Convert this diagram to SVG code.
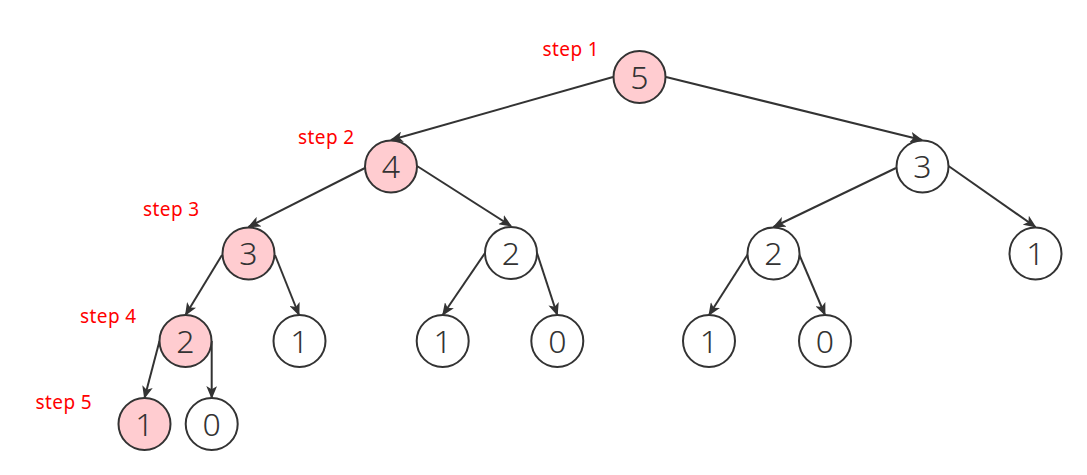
<svg xmlns="http://www.w3.org/2000/svg" width="1087" height="475" viewBox="0 0 1087 475">
<style>
.n circle{fill:#fff;stroke:#333;stroke-width:2}
.n.p circle{fill:#ffccd0}
.n text{font-family:"Noto Sans","Open Sans",sans-serif;font-size:32px;font-weight:300;fill:#333;text-anchor:middle}
.e line{stroke:#333;stroke-width:2;marker-end:url(#ah)}
.s{font-family:"Noto Sans","Open Sans",sans-serif;font-size:19px;letter-spacing:0.4px;fill:#ff0000}
</style>
<defs>
<marker id="ah" viewBox="0 0 12 10" refX="11" refY="5" markerWidth="6.5" markerHeight="5.4" orient="auto" markerUnits="strokeWidth">
<path d="M0,0 L12,5 L0,10 L3,5 Z" fill="#333"/>
</marker>
</defs>
<rect width="1087" height="475" fill="#fff"/>
<g id="connectors" class="e">
<line x1="613" y1="77" x2="391" y2="140"/>
<line x1="666" y1="77" x2="922" y2="140"/>
<line x1="365" y1="168" x2="248.5" y2="227"/>
<line x1="417" y1="166" x2="511" y2="226"/>
<line x1="222" y1="255" x2="185.5" y2="315"/>
<line x1="275" y1="255" x2="299" y2="315"/>
<line x1="159.5" y1="341" x2="144.5" y2="398"/>
<line x1="211.7" y1="341" x2="211.7" y2="398"/>
<line x1="485" y1="253" x2="442.7" y2="315"/>
<line x1="537" y1="253" x2="557.3" y2="315"/>
<line x1="896" y1="168" x2="773.5" y2="227"/>
<line x1="948.5" y1="166" x2="1035.5" y2="227"/>
<line x1="748" y1="254" x2="709" y2="315"/>
<line x1="799" y1="254" x2="825" y2="315"/>
</g>
<g id="n5" class="n p"><circle cx="639.5" cy="77" r="26"/><text x="639.5" y="88.5">5</text></g>
<g id="n4" class="n p"><circle cx="391" cy="166.5" r="26"/><text x="391" y="178">4</text></g>
<g id="n3r" class="n"><circle cx="922.5" cy="166.5" r="26"/><text x="922.5" y="178">3</text></g>
<g id="n3l" class="n p"><circle cx="248.5" cy="253.5" r="26"/><text x="248.5" y="265">3</text></g>
<g id="n2m" class="n"><circle cx="511" cy="253" r="26"/><text x="511" y="264.5">2</text></g>
<g id="n2r" class="n"><circle cx="773.5" cy="253.5" r="26"/><text x="773.5" y="265">2</text></g>
<g id="n1r" class="n"><circle cx="1035.5" cy="253.5" r="26"/><text x="1035.5" y="265">1</text></g>
<g id="n2l" class="n p"><circle cx="185.5" cy="341" r="26"/><text x="185.5" y="352.5">2</text></g>
<g id="n1a" class="n"><circle cx="299.5" cy="341" r="26"/><text x="299.5" y="352.5">1</text></g>
<g id="n1b" class="n"><circle cx="442.7" cy="341" r="26"/><text x="442.7" y="352.5">1</text></g>
<g id="n0b" class="n"><circle cx="557.3" cy="341" r="26"/><text x="557.3" y="352.5">0</text></g>
<g id="n1c" class="n"><circle cx="709" cy="341" r="26"/><text x="709" y="352.5">1</text></g>
<g id="n0c" class="n"><circle cx="825" cy="341" r="26"/><text x="825" y="352.5">0</text></g>
<g id="n1p" class="n p"><circle cx="144.5" cy="424" r="26"/><text x="144.5" y="435.5">1</text></g>
<g id="n0a" class="n"><circle cx="211.7" cy="424" r="26"/><text x="211.7" y="435.5">0</text></g>
<g id="labels">
<text class="s" x="542.5" y="56">step 1</text>
<text class="s" x="298" y="144">step 2</text>
<text class="s" x="143" y="216">step 3</text>
<text class="s" x="80" y="322.5">step 4</text>
<text class="s" x="35.5" y="409">step 5</text>
</g>
</svg>
